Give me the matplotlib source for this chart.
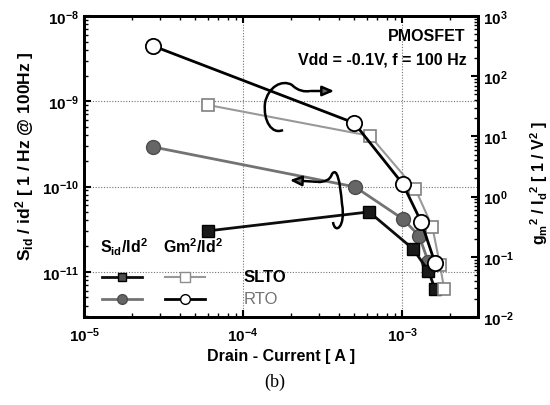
import numpy as np
import matplotlib
matplotlib.use("Agg")
import matplotlib.pyplot as plt
from matplotlib.lines import Line2D
from matplotlib.path import Path
from matplotlib.patches import PathPatch
from matplotlib.ticker import LogLocator, NullFormatter

plt.rcParams['font.family'] = ['Liberation Sans', 'DejaVu Sans']
plt.rcParams['mathtext.fontset'] = 'custom'
plt.rcParams['mathtext.rm'] = 'Liberation Sans:bold'
plt.rcParams['mathtext.it'] = 'Liberation Sans:bold'
plt.rcParams['mathtext.bf'] = 'Liberation Sans:bold'

# noise (left axis) : S_id / Id^2
rto_sid_x = [2.72e-5, 5.06e-4, 1.01e-3, 1.28e-3, 1.46e-3]
rto_sid_y = [2.91e-10, 9.9e-11, 4.17e-11, 2.64e-11, 1.31e-11]
slto_sid_x = [6.03e-5, 6.2e-4, 1.17e-3, 1.46e-3, 1.61e-3]
slto_sid_y = [3.02e-11, 5.04e-11, 1.86e-11, 1.03e-11, 6.3e-12]

# transconductance (right axis) : gm^2 / Id^2
rto_gm_x = [2.72e-5, 5.0e-4, 1.01e-3, 1.32e-3, 1.61e-3]
rto_gm_y = [318, 16.7, 1.62, 0.378, 0.079]
slto_gm_x = [6.03e-5, 6.29e-4, 1.21e-3, 1.55e-3, 1.73e-3, 1.84e-3]
slto_gm_y = [33.2, 10.2, 1.34, 0.313, 0.073, 0.029]

W, H = 550, 406
fig = plt.figure(figsize=(W / 100, H / 100), dpi=100)
ax = fig.add_axes([84 / W, 1 - 318 / H, 394 / W, 301 / H])
ax2 = ax.twinx()

def px(x, y):
    return (x / W, 1 - y / H)

ax.set_xscale('log')
ax.set_yscale('log')
ax2.set_yscale('log')
ax.set_xlim(1e-5, 3e-3)
ax.set_ylim(2.95e-12, 1e-8)
ax2.set_ylim(1e-2, 1e3)

# grid on major decades
for gx in [1e-4, 1e-3]:
    ax.axvline(gx, color='0.45', lw=0.8, ls=(0, (1, 1.5)), zorder=0)
for gy in [1e-9, 1e-10, 1e-11]:
    ax.axhline(gy, color='0.45', lw=0.8, ls=(0, (1, 1.5)), zorder=0)

ax.plot(rto_sid_x, rto_sid_y, '-o', color='0.45', lw=2, ms=10,
        mfc='0.4', mec='0.3', mew=1, zorder=3)
ax.plot(slto_sid_x, slto_sid_y, '-s', color='0.05', lw=2, ms=9,
        mfc='0.1', mec='0.0', zorder=3)
ax2.plot(slto_gm_x, slto_gm_y, '-s', color='0.6', lw=1.5, ms=9,
         mfc='white', mec='0.5', mew=1.2, zorder=3)
ax2.plot(rto_gm_x, rto_gm_y, '-o', color='black', lw=2, ms=11,
         mfc='white', mec='black', mew=1.3, zorder=4)

for a in (ax, ax2):
    for s in a.spines.values():
        s.set_linewidth(2)
    a.tick_params(which='both', direction='in', labelsize=11)
    a.tick_params(which='major', length=5, width=1.5)
    a.tick_params(which='minor', length=3, width=1)
ax.tick_params(axis='x', which='both', top=True, pad=6)
ax.tick_params(axis='y', which='both', right=False)
ax.yaxis.set_major_locator(LogLocator(base=10, numticks=10))
ax.yaxis.set_minor_locator(LogLocator(base=10, subs=np.arange(2, 10), numticks=20))
ax.yaxis.set_minor_formatter(NullFormatter())
ax.xaxis.set_minor_formatter(NullFormatter())
ax2.yaxis.set_minor_locator(LogLocator(base=10, subs=np.arange(2, 10), numticks=20))
ax2.yaxis.set_minor_formatter(NullFormatter())
for lab in ax.get_xticklabels() + ax.get_yticklabels() + ax2.get_yticklabels():
    lab.set_fontweight('bold')

ax.set_xlabel('Drain - Current [ A ]', fontsize=11.5, fontweight='bold', labelpad=3)
ax.set_ylabel(r'S$_{id}$ / id$^2$ [ 1 / Hz @ 100Hz ]', fontsize=12.5,
              fontweight='bold')
ax.yaxis.set_label_coords(-0.122, 0.537)
ax2.set_ylabel(r'g$_m$$^2$ / I$_d$$^2$ [ 1 / V$^2$ ]', fontsize=11.5,
               fontweight='bold')
ax2.yaxis.set_label_coords(1.128, 0.449)

ax.text(0.967, 0.934, 'PMOSFET', transform=ax.transAxes, ha='right',
        va='center', fontsize=11.5, fontweight='bold')
ax.text(0.972, 0.857, 'Vdd = -0.1V, f = 100 Hz', transform=ax.transAxes,
        ha='right', va='center', fontsize=11.5, fontweight='bold')

# hand-made legend
ax.text(0.04, 0.236, r'S$_{id}$/Id$^2$', transform=ax.transAxes,
        fontsize=11.5, fontweight='bold', va='center')
ax.text(0.2, 0.236, r'Gm$^2$/Id$^2$', transform=ax.transAxes,
        fontsize=11.5, fontweight='bold', va='center')
rows = [0.133, 0.060]
ax.add_line(Line2D([0.046, 0.0965, 0.147], [rows[0]] * 3, transform=ax.transAxes,
                   color='0.05', lw=2, marker='s', markevery=[1], ms=6,
                   mfc='0.3', mec='0.0'))
ax.add_line(Line2D([0.206, 0.2565, 0.307], [rows[0]] * 3, transform=ax.transAxes,
                   color='0.6', lw=1.5, marker='s', markevery=[1], ms=7,
                   mfc='white', mec='0.55'))
ax.add_line(Line2D([0.046, 0.0965, 0.147], [rows[1]] * 3, transform=ax.transAxes,
                   color='0.45', lw=2, marker='o', markevery=[1], ms=7,
                   mfc='0.4', mec='0.3'))
ax.add_line(Line2D([0.206, 0.2565, 0.307], [rows[1]] * 3, transform=ax.transAxes,
                   color='black', lw=2, marker='o', markevery=[1], ms=7,
                   mfc='white', mec='black'))
ax.text(0.404, rows[0], 'SLTO', transform=ax.transAxes, fontsize=12,
        fontweight='bold', va='center')
ax.text(0.404, rows[1], 'RTO', transform=ax.transAxes, fontsize=12,
        color='0.45', va='center')

# loop with arrow pointing to the right axis
loop1 = [(283, 131), (272, 136), (263, 122), (265, 104), (268, 88),
         (282, 80), (292, 86), (298, 92), (305, 93), (310, 92)]
codes = [Path.MOVETO] + [Path.CURVE4] * 9
fig.add_artist(PathPatch(Path([px(*p) for p in loop1], codes),
                         transform=fig.transFigure, fill=False, lw=1.8,
                         color='black'))
ax.annotate('', xy=px(337, 92), xytext=px(308, 92), xycoords='figure fraction',
            textcoords='figure fraction',
            arrowprops=dict(arrowstyle='-|>,head_length=0.7,head_width=0.3',
                        lw=1.8, color='black', fc='0.4'))

# loop with arrow pointing to the left axis
loop2 = [(333, 223), (335, 236), (346, 228), (342, 205), (340, 182),
         (337, 168), (332, 175), (330, 181), (325, 183), (318, 183)]
fig.add_artist(PathPatch(Path([px(*p) for p in loop2], codes),
                         transform=fig.transFigure, fill=False, lw=1.8,
                         color='black'))
ax.annotate('', xy=px(287, 181), xytext=px(320, 183), xycoords='figure fraction',
            textcoords='figure fraction',
            arrowprops=dict(arrowstyle='-|>,head_length=0.7,head_width=0.3',
                        lw=1.8, color='black', fc='0.4'))

fig.text(0.5, 1 - 382 / H, '(b)', ha='center', va='center', fontsize=13,
         family='Liberation Serif')

fig.savefig('out.png', dpi=100)
